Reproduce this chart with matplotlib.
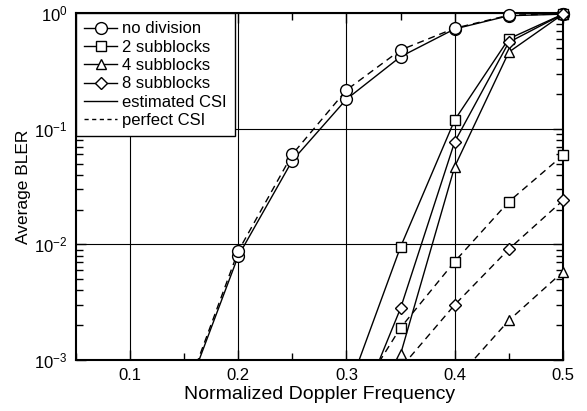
import matplotlib.pyplot as plt
from matplotlib.ticker import MultipleLocator, LogLocator, NullFormatter

plt.rcParams['font.family'] = ['Liberation Sans', 'DejaVu Sans']

# normalized Doppler frequency
fd = [0.15, 0.2, 0.25, 0.3, 0.35, 0.4, 0.45, 0.5]
fd_sub = [0.3, 0.35, 0.4, 0.45, 0.5]

# average BLER, estimated CSI (solid)
nodiv_est = [0.00045, 0.0079, 0.053, 0.18, 0.42, 0.73, 0.95, 0.98]
sub2_est = [0.0005, 0.0095, 0.119, 0.6, 0.98]
sub4_est = [0.00008, 0.00112, 0.047, 0.46, 0.98]
sub8_est = [0.0002, 0.0028, 0.077, 0.56, 0.98]

# average BLER, perfect CSI (dashed)
nodiv_perf = [0.00047, 0.0087, 0.06, 0.216, 0.48, 0.74, 0.96, 0.985]
sub2_perf = [0.00034, 0.0019, 0.0071, 0.0234, 0.059]
sub4_perf = [0.00005, 0.00018, 0.00066, 0.0022, 0.0058]
sub8_perf = [0.00022, 0.00085, 0.003, 0.0091, 0.024]

ymin = 1e-3

fig = plt.figure(figsize=(5.87, 4.11), dpi=100)
ax = fig.add_axes([0.129, 0.124, 0.83, 0.844])

series = [
    (fd, nodiv_est, nodiv_perf, 'o', 8.5, 'no division'),
    (fd_sub, sub2_est, sub2_perf, 's', 6.5, '2 subblocks'),
    (fd_sub, sub4_est, sub4_perf, '^', 7, '4 subblocks'),
    (fd_sub, sub8_est, sub8_perf, 'D', 6, '8 subblocks'),
]

for x, est, perf, mk, ms, name in series:
    for y, ls in [(est, '-'), (perf, (0, (5, 3.5)))]:
        ax.plot(x, y, color='black', lw=1.0, linestyle=ls, zorder=3)
        # markers drawn unclipped so the ones on the border stay whole
        xs = [a for a, b in zip(x, y) if b >= ymin]
        ys = [b for b in y if b >= ymin]
        ax.plot(xs, ys, linestyle='none', marker=mk, ms=ms, mfc='white',
                mec='black', mew=1.0, clip_on=False, zorder=4)

# legend entries
handles = []
for _, _, _, mk, ms, name in series:
    h, = ax.plot([], [], color='black', lw=1.0, marker=mk, ms=ms,
                 mfc='white', mec='black', label=name)
    handles.append(h)
h, = ax.plot([], [], color='black', lw=1.0, label='estimated CSI')
handles.append(h)
h, = ax.plot([], [], color='black', lw=1.0, linestyle=(0, (3, 2.5)),
             label='perfect CSI')
handles.append(h)

leg = ax.legend(handles=handles, loc='upper left', fontsize=12,
                frameon=True, fancybox=False, framealpha=1,
                edgecolor='black', borderaxespad=0, handlelength=2.0,
                handletextpad=0.25, labelspacing=0.2, borderpad=0.5)
leg.get_frame().set_linewidth(1.0)
leg.set_zorder(5)

ax.set_yscale('log')
ax.set_xlim(0.05, 0.5)
ax.set_ylim(ymin, 1)
ax.xaxis.set_major_locator(MultipleLocator(0.1))
ax.xaxis.set_minor_locator(MultipleLocator(0.05))
ax.yaxis.set_major_locator(LogLocator(base=10, numticks=10))
ax.yaxis.set_minor_locator(LogLocator(base=10, subs=range(2, 10), numticks=10))
ax.yaxis.set_minor_formatter(NullFormatter())
ax.xaxis.set_major_formatter(plt.FuncFormatter(lambda v, p: f'{v:.1f}'))

ax.tick_params(which='both', direction='in', top=True, right=True,
               labelsize=12, colors='black')
ax.tick_params(which='major', length=7, width=1.0, pad=6)
ax.tick_params(which='minor', length=5, width=1.0)

ax.grid(True, which='major', color='black', lw=0.8)
for s in ax.spines.values():
    s.set_linewidth(1.5)

ax.set_xlabel('Normalized Doppler Frequency', fontsize=14, labelpad=2)
ax.set_ylabel('Average BLER', fontsize=12.5, labelpad=2)

fig.savefig('out.png', dpi=100)
